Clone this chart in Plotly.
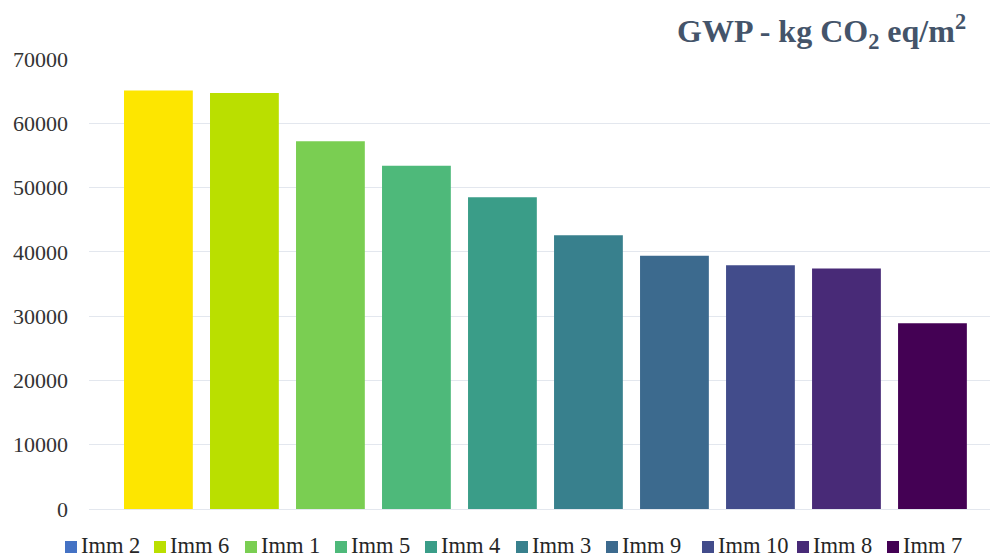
import plotly.graph_objects as go

categories = ["Imm 2", "Imm 6", "Imm 1", "Imm 5", "Imm 4", "Imm 3", "Imm 9", "Imm 10", "Imm 8", "Imm 7"]
gwp_values = [65100, 64700, 57200, 53400, 48500, 42600, 39400, 37900, 37400, 28900]
bar_colors = ["#FDE600", "#BADF00", "#7ACE52", "#4EB97A", "#3A9D88", "#38808D", "#3C6A8E", "#424C8B", "#482A77", "#440154"]
legend_colors = ["#4472C4", "#BADF00", "#7ACE52", "#4EB97A", "#3A9D88", "#38808D", "#3C6A8E", "#424C8B", "#482A77", "#440154"]
y_ticks = [0, 10000, 20000, 30000, 40000, 50000, 60000, 70000]

FONT = "Liberation Serif, Times New Roman, serif"

# layout: left edge (px) of each legend entry's swatch
legend_left_px = [65, 154, 245, 335, 425, 516, 606, 702, 797, 887]
PLOT_L, PLOT_W, PLOT_T, PLOT_H = 89, 901, 59, 450
FIG_W, FIG_H = 991, 558


def px_x(p):
    return (p - PLOT_L) / PLOT_W


def px_y(p):
    return 1 - (p - PLOT_T) / PLOT_H


fig = go.Figure()
for c, v, col in zip(categories, gwp_values, bar_colors):
    fig.add_trace(go.Bar(x=[c], y=[v], name=c, marker=dict(color=col, line=dict(width=0)),
                         showlegend=False, width=0.8))

annotations = [dict(text="GWP - kg CO<sub>2</sub> eq/m<sup>2</sup>", xref="paper", yref="paper",
                    x=px_x(968), y=px_y(32), xanchor="right", yanchor="middle", showarrow=False,
                    font=dict(family=FONT, size=32, color="#44546A", weight="bold"))]
shapes = []
for name, col, p in zip(categories, legend_colors, legend_left_px):
    shapes.append(dict(type="rect", xref="paper", yref="paper",
                       x0=px_x(p), x1=px_x(p + 12), y0=px_y(553), y1=px_y(541),
                       fillcolor=col, line=dict(width=0), layer="above"))
    annotations.append(dict(
        text=name, xref="paper", yref="paper", x=px_x(p + 14), y=px_y(545),
        xanchor="left", yanchor="middle", showarrow=False,
        font=dict(family=FONT, size=22.5, color="#262626")))

fig.update_layout(
    width=FIG_W, height=FIG_H,
    margin=dict(l=PLOT_L, r=FIG_W - PLOT_L - PLOT_W, t=PLOT_T, b=FIG_H - PLOT_T - PLOT_H, autoexpand=False),
    paper_bgcolor="white", plot_bgcolor="white",
    barmode="overlay",
    font=dict(family=FONT, size=22, color="#333333"),
    showlegend=False,
    annotations=annotations,
    shapes=shapes,
)
fig.update_xaxes(range=[-0.807, 9.669], showticklabels=False, showgrid=False, zeroline=False,
                 showline=False, ticks="", automargin=False)
fig.update_yaxes(range=[0, 70000], tickvals=y_ticks, ticktext=[str(t) for t in y_ticks],
                 showgrid=True, gridcolor="#E3E7EE", gridwidth=1, zeroline=True,
                 zerolinecolor="#E3E7EE", zerolinewidth=1, showline=False, automargin=False,
                 tickfont=dict(family=FONT, size=22, color="#333333"), ticklabelstandoff=20)

fig.write_html("out.html", config={"displayModeBar": False},
               post_script="document.body.style.margin='0';document.body.style.overflow='hidden';")
